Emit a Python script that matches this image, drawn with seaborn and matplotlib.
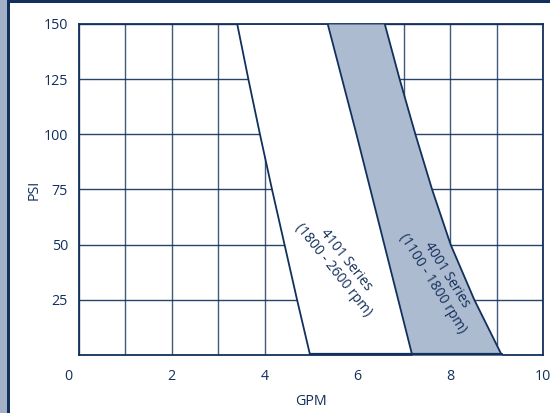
import numpy as np
import pandas as pd
import matplotlib
matplotlib.use("Agg")
import matplotlib.pyplot as plt
import matplotlib.transforms as mtransforms
from matplotlib.patches import Rectangle
import seaborn as sns

# ---- data ----
psi = [150, 125, 100, 75, 50, 25, 0]
gpm_4101_low = [3.41, 3.65, 3.90, 4.16, 4.43, 4.70, 4.98]   # left edge of 4101 band
gpm_4001_low = [5.36, 5.67, 5.98, 6.28, 6.58, 6.88, 7.18]   # left edge of 4001 band
gpm_4001_high = [6.59, 6.91, 7.25, 7.61, 8.01, 8.52, 9.11]  # right edge of 4001 band
x_ticks = [0, 2, 4, 6, 8, 10]
y_ticks = [25, 50, 75, 100, 125, 150]
label_4101 = "4101 Series\n(1800 - 2600 rpm)"
label_4001 = "4001 Series\n(1100 - 1800 rpm)"

NAVY = "#11305c"
FILL = "#adbbd1"
TEXT = "#132f5a"

sns.set_theme(style="white")
plt.rcParams['font.family'] = ['Open Sans', 'DejaVu Sans']

fig = plt.figure(figsize=(5.5, 4.13), dpi=100)
ax = fig.add_axes([79/550, 1-355/413, (543-79)/550, (355-24)/413])

# frame decorations
fig.patches.append(Rectangle((0, 0), 7/550, 1, transform=fig.transFigure,
                             facecolor="#a3b1c8", edgecolor="none", zorder=0))
fig.patches.append(Rectangle((7/550, 0), 3/550, 1, transform=fig.transFigure,
                             facecolor=NAVY, edgecolor="none", zorder=0))
fig.patches.append(Rectangle((7/550, 1-3/413), 1, 3/413, transform=fig.transFigure,
                             facecolor=NAVY, edgecolor="none", zorder=0))

df = pd.DataFrame({"psi": psi, "a": gpm_4101_low, "b": gpm_4001_low, "c": gpm_4001_high})

ax.set_xlim(0, 10)
ax.set_ylim(0, 150)

# grid
ax.set_xticks(range(0, 11), minor=True)
ax.set_yticks(y_ticks)
ax.set_xticks(x_ticks)
ax.grid(True, which="both", axis="x", color=NAVY, lw=1.0, alpha=0.8)
ax.grid(True, which="major", axis="y", color=NAVY, lw=1.0, alpha=0.9)
ax.set_axisbelow(True)

# bands
ax.fill_betweenx(df["psi"], df["a"], df["c"], color="white", zorder=2, lw=0)
ax.fill_betweenx(df["psi"], df["b"], df["c"], color=FILL, zorder=3, lw=0)
for col in ["a", "b", "c"]:
    sns.lineplot(data=df, x=col, y="psi", sort=False, color=NAVY, lw=1.3, ax=ax, zorder=4)
ax.plot([df["a"].iloc[-1], df["c"].iloc[-1]], [0.6, 0.6], color=NAVY, lw=1.6, zorder=4, clip_on=False)

ax.text(5.62, 41, label_4101, rotation=-51.5, ha="center", va="center",
        multialignment="center", fontsize=10, color=TEXT, zorder=5, rotation_mode="anchor",
        linespacing=1.1)
ax.text(7.77, 34.5, label_4001, rotation=-58, ha="center", va="center",
        multialignment="center", fontsize=10, color=TEXT, zorder=5, rotation_mode="anchor",
        linespacing=1.1)

for s in ax.spines.values():
    s.set_color(NAVY)
    s.set_linewidth(1.3)
    s.set_visible(True)

ax.tick_params(axis="both", which="both", length=0, labelsize=10.3, labelcolor=TEXT)
ax.tick_params(axis="y", pad=8)
ax.tick_params(axis="x", pad=10)
ax.set_yticklabels([str(v) for v in y_ticks])
ax.set_xticklabels([str(v) for v in x_ticks])
# shift the "0" label left as in the reference
lbl0 = ax.get_xticklabels()[0]
lbl0.set_transform(lbl0.get_transform() + mtransforms.ScaledTranslation(-11/100, 0, fig.dpi_scale_trans))

ax.set_xlabel("GPM", fontsize=10.3, color=TEXT, labelpad=7)
ax.set_ylabel("PSI", fontsize=10.3, color=TEXT, labelpad=1.5)

fig.savefig("out.png", dpi=100, facecolor="white")
